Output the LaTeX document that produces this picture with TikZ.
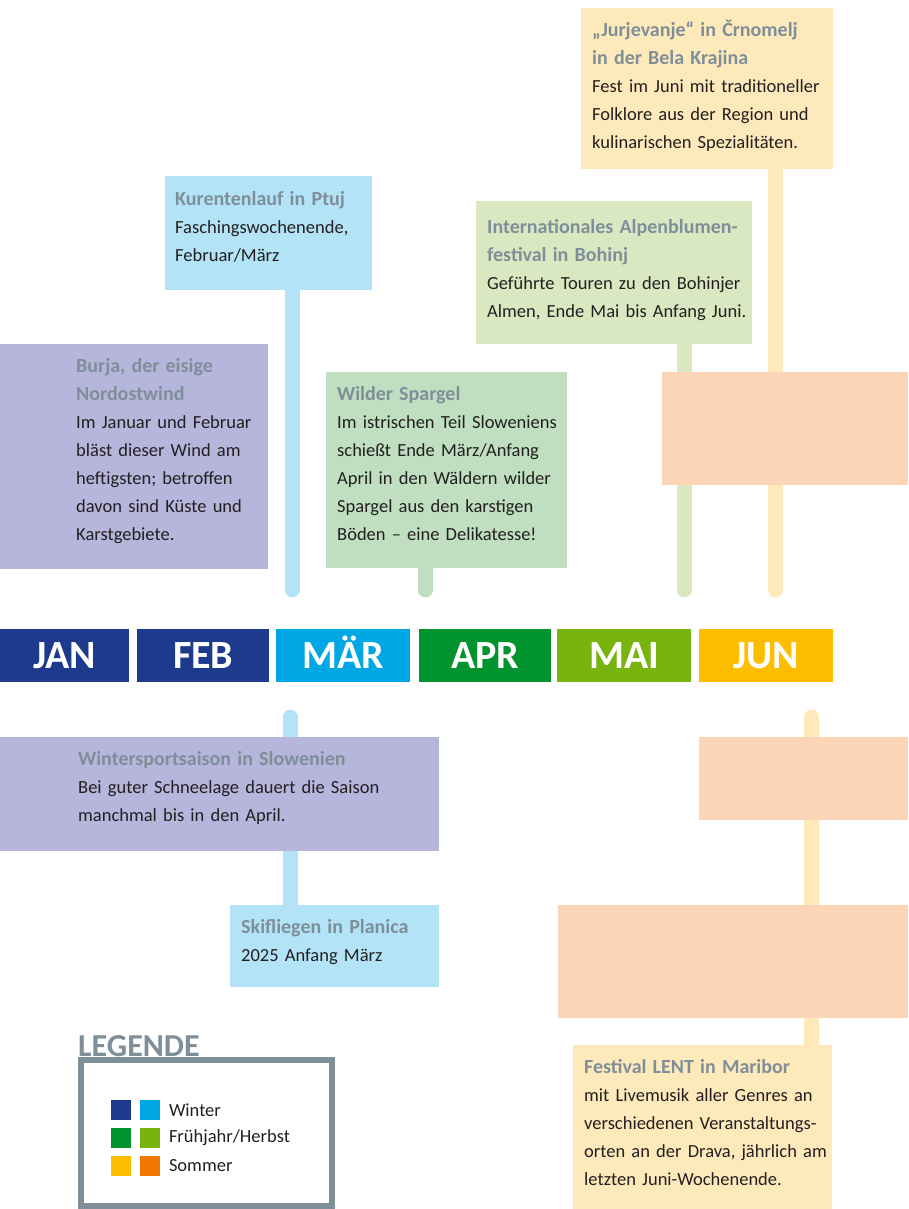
\documentclass[tikz,border=0pt]{standalone}
\usepackage{fontspec}
\setmainfont{Carlito}
\usetikzlibrary{positioning,backgrounds}

\definecolor{winterdark}{HTML}{1E3A8C}
\definecolor{winterlight}{HTML}{00A7E5}
\definecolor{springdark}{HTML}{00932E}
\definecolor{springlight}{HTML}{78B40E}
\definecolor{summerdark}{HTML}{FFBD00}
\definecolor{summerlight}{HTML}{F07800}
\definecolor{lavender}{HTML}{B6B5DB}
\definecolor{skyfill}{HTML}{B3E3F7}
\definecolor{mintfill}{HTML}{BFDFC0}
\definecolor{limefill}{HTML}{D9E8C1}
\definecolor{creamfill}{HTML}{FEE9BB}
\definecolor{peachfill}{HTML}{FCD5B6}
\definecolor{headgray}{HTML}{7F8F99}
\definecolor{ink}{HTML}{231F20}

% bold grey heading of an event, first line kept at a fixed height
\newcommand\evhead[1]{{\bfseries\color{headgray}\fontsize{20}{28}\selectfont\rule{0pt}{18pt}#1}}

\tikzset{
    evbox/.style={anchor=north west, inner sep=0pt, outer sep=0pt},
    evtext/.style={anchor=north west, inner sep=0pt, text width=340pt, align=left,
        text=ink, font=\fontsize{18.5}{28}\selectfont},
    month/.style={anchor=north west, inner sep=0pt, minimum height=53pt, text=white,
        text height=26pt, text depth=0pt, font=\bfseries\fontsize{40}{40}\selectfont},
    pole/.style={line width=15pt, line cap=round},
    swatch/.style={inner sep=0pt, minimum size=20pt},
    legtext/.style={inner sep=0pt, text=ink, font=\fontsize{18.5}{22}\selectfont}
}

\begin{document}
\begin{tikzpicture}[x=1pt, y=-1pt]
    \useasboundingbox (0,0) rectangle (908,1209);

% month bar
    \foreach \name/\x/\w/\col/\lab in {jan/0/129/winterdark/JAN, feb/137/132/winterdark/FEB,
        mar/276/134/winterlight/MÄR, apr/419/132/springdark/APR,
        mai/557/134/springlight/MAI, jun/699/134/summerdark/JUN}
        \node[month, fill=\col, minimum width=\w pt] (\name) at (\x,629) {\lab};

% events above the bar
    \node[evbox, fill=creamfill, minimum width=252pt, minimum height=161pt] (jurje) at (581,8) {};
    \node[evtext] (jurje-t) at (592,18) {\evhead{„Jurjevanje“ in Črnomelj\\in der Bela Krajina}\\
        Fest im Juni mit traditioneller\\Folklore aus der Region und\\kulinarischen Spezialitäten.};

    \node[evbox, fill=skyfill, minimum width=207pt, minimum height=114pt] (kurent) at (165,176) {};
    \node[evtext] (kurent-t) at (175,187) {\evhead{Kurentenlauf in Ptuj}\\
        Faschingswochenende,\\Februar/März};

    \node[evbox, fill=limefill, minimum width=276pt, minimum height=143pt] (alpen) at (476,201) {};
    \node[evtext] (alpen-t) at (487,215) {\evhead{Internationales Alpenblumen-\\festival in Bohinj}\\
        Geführte Touren zu den Bohinjer\\Almen, Ende Mai bis Anfang Juni.};

    \node[evbox, fill=lavender, minimum width=268pt, minimum height=225pt] (burja) at (0,344) {};
    \node[evtext] (burja-t) at (76,354) {\evhead{Burja, der eisige\\Nordostwind}\\
        Im Januar und Februar\\bläst dieser Wind am\\heftigsten; betroffen\\davon sind Küste und\\Karstgebiete.};

    \node[evbox, fill=mintfill, minimum width=241pt, minimum height=196pt] (spargel) at (326,372) {};
    \node[evtext] (spargel-t) at (337,382) {\evhead{Wilder Spargel}\\
        Im istrischen Teil Sloweniens\\schießt Ende März/Anfang\\April in den Wäldern wilder\\
        Spargel aus den karstigen\\Böden – eine Delikatesse!};

    \node[evbox, fill=peachfill, minimum width=246pt, minimum height=113pt] (peachA) at (662,372) {};

% events below the bar
    \node[evbox, fill=lavender, minimum width=439pt, minimum height=114pt] (winter) at (0,737) {};
    \node[evtext] (winter-t) at (78,747) {\evhead{Wintersportsaison in Slowenien}\\
        Bei guter Schneelage dauert die Saison\\manchmal bis in den April.};

    \node[evbox, fill=skyfill, minimum width=209pt, minimum height=82pt] (ski) at (230,905) {};
    \node[evtext] (ski-t) at (241,915) {\evhead{Skifliegen in Planica}\\2025 Anfang März};

    \node[evbox, fill=peachfill, minimum width=209pt, minimum height=83pt] (peachB) at (699,737) {};
    \node[evbox, fill=peachfill, minimum width=350pt, minimum height=113pt] (peachC) at (558,905) {};

    \node[evbox, fill=creamfill, minimum width=259pt, minimum height=164pt] (lent) at (573,1045) {};
    \node[evtext] (lent-t) at (584,1055) {\evhead{Festival LENT in Maribor}\\
        mit Livemusik aller Genres an\\verschiedenen Veranstaltungs-\\
        orten an der Drava, jährlich am\\letzten Juni-Wochenende.};

% poles
    \coordinate (kurent-foot) at (292,590);
    \coordinate (spargel-foot) at (425,590);
    \coordinate (alpen-foot) at (684,590);
    \coordinate (jurje-foot) at (775.5,590);
    \coordinate (ski-top) at (290,717);
    \coordinate (lent-top) at (811.5,717);
    \begin{scope}[on background layer]
    \draw[pole, skyfill] (kurent.south -| kurent-foot) -- (kurent-foot);
    \draw[pole, mintfill] (spargel.south -| spargel-foot) -- (spargel-foot);
    \draw[pole, limefill] (alpen.south -| alpen-foot) -- (alpen-foot);
    \draw[pole, creamfill] (jurje.south -| jurje-foot) -- (jurje-foot);
    \draw[pole, skyfill] (ski-top) -- (ski.north -| ski-top);
    \draw[pole, creamfill] (lent-top) -- (lent.north -| lent-top);
    \end{scope}

% legend
    \node[evbox, draw=headgray, line width=6pt, minimum width=251pt, minimum height=146pt] (legend) at (81,1060) {};
    \node[anchor=base west, inner sep=0pt, text=headgray, font=\bfseries\fontsize{32}{32}\selectfont]
        (legend-t) at (78,1056) {LEGENDE};
    \node[swatch, fill=winterdark, anchor=north west] (wd) at (111,1100) {};
    \node[swatch, fill=winterlight, right=8pt of wd] (wl) {};
    \node[legtext, right=9pt of wl] (wt) {Winter};
    \node[swatch, fill=springdark, below=7pt of wd] (sd) {};
    \node[swatch, fill=springlight, right=8pt of sd] (sl) {};
    \node[legtext, right=9pt of sl] (st) {Frühjahr/Herbst};
    \node[swatch, fill=summerdark, below=8pt of sd] (md) {};
    \node[swatch, fill=summerlight, right=8pt of md] (ml) {};
    \node[legtext, right=9pt of ml] (mt) {Sommer};
\end{tikzpicture}
\end{document}
